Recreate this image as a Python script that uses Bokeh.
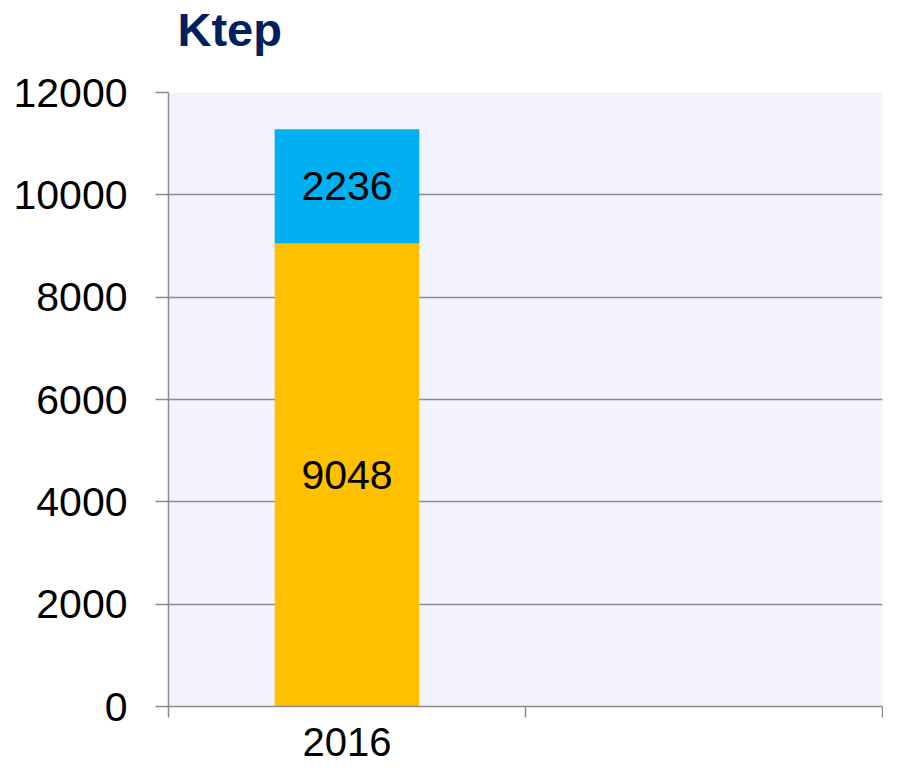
from bokeh.plotting import figure
from bokeh.models import ColumnDataSource, Range1d, FixedTicker, LinearAxis, Title
from bokeh.core.properties import value
from bokeh.embed import file_html
from bokeh.resources import INLINE

years = ["2016"]
n_slots = 2
series_bottom = [9048]
series_top = [2236]
y_ticks = [0, 2000, 4000, 6000, 8000, 10000, 12000]

col_bottom = "#FFC000"
col_top = "#00B0F0"
grid_col = "#8C8C8C"
font = "Liberation Sans"

xs = [i + 0.5 for i in range(len(years))]
tops1 = series_bottom
tops2 = [a + b for a, b in zip(series_bottom, series_top)]
mid1 = [a / 2 for a in series_bottom]
mid2 = [a + b / 2 for a, b in zip(series_bottom, series_top)]

src = ColumnDataSource(dict(x=xs, b=series_bottom, t=series_top,
                            top1=tops1, top2=tops2, mid1=mid1, mid2=mid2,
                            lb=[str(v) for v in series_bottom],
                            lt=[str(v) for v in series_top]))

p = figure(width=883, height=764, output_backend="svg", toolbar_location=None,
           x_range=Range1d(0, n_slots), y_range=Range1d(0, 12000),
           min_border_left=168, min_border_right=1, min_border_top=91, min_border_bottom=58,
           x_axis_type=None, title=None)

p.background_fill_color = "#F3F3FD"
p.border_fill_color = "white"
p.outline_line_color = None

spacer = Title(text=" ", text_font_size="10px", standoff=24)
p.add_layout(spacer, "above")
ttl = Title(text="Ktep", text_font=font, text_font_size="47px", text_font_style="bold",
            text_color="#002060", align="left", offset=9, standoff=0)
p.add_layout(ttl, "above")

p.vbar(x="x", bottom=0, top="top1", width=0.405, source=src,
       fill_color=col_bottom, line_color=None)
p.vbar(x="x", bottom="top1", top="top2", width=0.405, source=src,
       fill_color=col_top, line_color=None)

p.text(x="x", y="mid1", text="lb", source=src, text_align="center",
       text_baseline="middle", text_font=value(font), text_font_size="41px",
       text_color="black")
p.text(x="x", y="mid2", text="lt", source=src, text_align="center",
       text_baseline="middle", text_font=value(font), text_font_size="41px",
       text_color="black")

# y axis
ya = p.yaxis[0]
ya.ticker = FixedTicker(ticks=y_ticks)
ya.axis_line_color = grid_col
ya.axis_line_width = 1.5
ya.major_tick_line_color = grid_col
ya.major_tick_line_width = 1.5
ya.major_tick_out = 13
ya.major_tick_in = 0
ya.minor_tick_line_color = None
ya.major_label_text_font = font
ya.major_label_text_font_size = "41px"
ya.major_label_text_color = "black"
ya.major_label_standoff = 28

# x axis
xa = LinearAxis(ticker=FixedTicker(ticks=xs, minor_ticks=list(range(n_slots + 1))))
xa.major_label_overrides = {x: y for x, y in zip(xs, years)}
xa.axis_line_color = grid_col
xa.axis_line_width = 1.5
xa.major_tick_line_color = None
xa.minor_tick_line_color = grid_col
xa.minor_tick_line_width = 1.5
xa.minor_tick_out = 11
xa.minor_tick_in = 0
xa.major_label_text_font = font
xa.major_label_text_font_size = "40px"
xa.major_label_text_color = "black"
xa.major_label_standoff = 10
p.add_layout(xa, "below")

p.xgrid.grid_line_color = None
p.ygrid.ticker = FixedTicker(ticks=y_ticks)
p.ygrid.grid_line_color = grid_col
p.ygrid.grid_line_width = 1.5

open("out.html", "w").write(file_html(p, INLINE))
